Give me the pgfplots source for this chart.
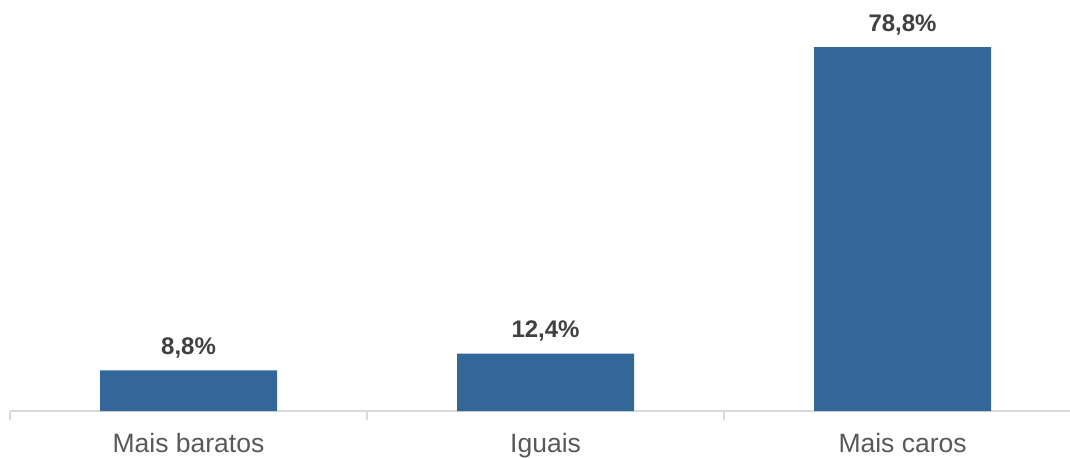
\documentclass[border=0pt]{standalone}
\usepackage{fontspec}
\setmainfont{Liberation Sans}
\usepackage{pgfplots}
\pgfplotsset{compat=1.18}
\definecolor{barblue}{RGB}{51,102,153}
\definecolor{axisgray}{RGB}{217,217,217}
\definecolor{labelgray}{RGB}{89,89,89}
\definecolor{valgray}{RGB}{64,64,64}
\begin{document}
\begin{tikzpicture}
\begin{axis}[
  at={(0,0)}, anchor=south west,
  scale only axis, width=530pt, height=205.5pt,
  xmin=-0.5, xmax=2.469, ymin=0, ymax=88.98,
  axis y line=none,
  axis x line*=bottom,
  x axis line style={draw=axisgray, line width=1pt, -},
  xtick={-0.5,0.5,1.5}, xticklabels={},
  tick align=outside,
  major tick length=4.5pt,
  xtick style={draw=axisgray, line width=1pt},
  extra x ticks={0,1,2},
  extra x tick labels={Mais baratos, Iguais, Mais caros},
  extra x tick style={major tick length=0pt, xtick style={draw=none},
    xticklabel style={font=\fontsize{13.25}{16}\selectfont, text=labelgray,
      anchor=base, yshift=-20.5pt}},
  clip=false,
]
\addplot[ybar, bar width=88.5pt, fill=barblue, draw=none,
  nodes near coords={\pgfmathprintnumber[use comma, fixed, fixed zerofill,
    precision=1, assume math mode=true]{\pgfplotspointmeta}\%},
  every node near coord/.append style={font=\bfseries\fontsize{12}{14}\selectfont,
    text=valgray, anchor=base, yshift=8pt, inner sep=0pt}]
  coordinates {(0,8.8) (1,12.4) (2,78.8)};
\end{axis}
\pgfresetboundingbox
\path (-5pt,-23pt) rectangle (530pt,205.5pt);
\end{tikzpicture}
\end{document}
